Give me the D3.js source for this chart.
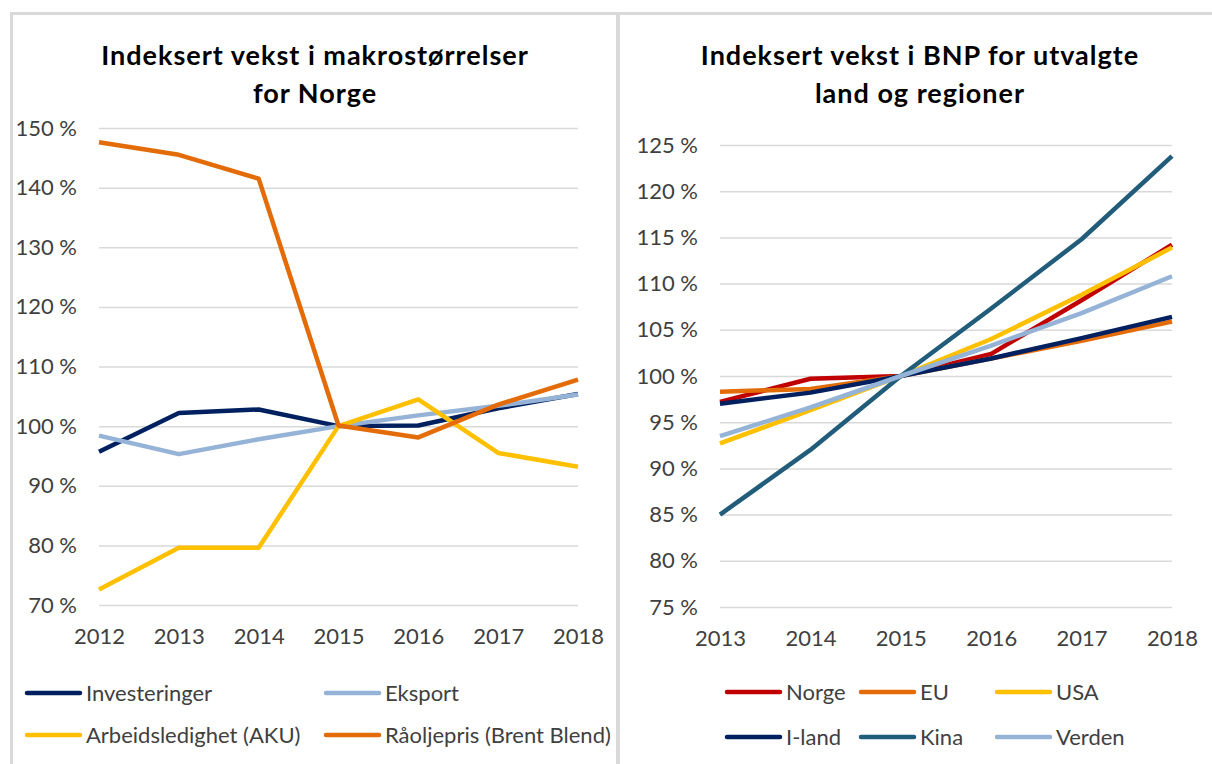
<!DOCTYPE html>
<html lang="no">
<head>
  <meta charset="UTF-8">
  <title>Indeksert vekst</title>
  <script src="https://d3js.org/d3.v7.min.js"></script>
  <style>
    body { margin: 0; background: #fff; }
    svg { display: block; }
  </style>
</head>
<body>
  <div id="chart"></div>

  <script>
    // Venstre panel: makrostørrelser for Norge
    const yearsLeft = [2012, 2013, 2014, 2015, 2016, 2017, 2018];
    const investeringer = [95.7, 102.2, 102.8, 100.0, 100.1, 103.0, 105.4];
    const eksport = [98.4, 95.3, 97.8, 100.0, 101.8, 103.4, 105.3];
    const arbeidsledighet = [72.6, 79.6, 79.6, 100.0, 104.5, 95.5, 93.2];
    const raaoljepris = [147.6, 145.5, 141.5, 100.1, 98.1, 103.6, 107.8];
    const ticksLeft = [70, 80, 90, 100, 110, 120, 130, 140, 150];

    // Høyre panel: BNP
    const yearsRight = [2013, 2014, 2015, 2016, 2017, 2018];
    const norge = [97.2, 99.7, 100.0, 102.4, 108.2, 114.2];
    const eu = [98.3, 98.6, 100.0, 101.9, 103.8, 105.9];
    const usa = [92.7, 96.3, 100.0, 104.0, 108.8, 113.9];
    const iland = [97.0, 98.2, 100.0, 101.9, 104.1, 106.4];
    const kina = [85.0, 92.0, 100.0, 107.3, 114.8, 123.8];
    const verden = [93.5, 96.6, 100.0, 103.3, 106.8, 110.8];
    const ticksRight = [75, 80, 85, 90, 95, 100, 105, 110, 115, 120, 125];

    const W = 1212, H = 764;
    const font = 'Lato, "Open Sans", sans-serif';

    const svg = d3.select('#chart').append('svg')
      .attr('width', W)
      .attr('height', H);

    // panel borders
    svg.append('rect').attr('x', 10).attr('y', 12).attr('width', 3).attr('height', H).attr('fill', '#d9d9d9');
    svg.append('rect').attr('x', 10).attr('y', 12).attr('width', W).attr('height', 3).attr('fill', '#d9d9d9');
    svg.append('rect').attr('x', 616).attr('y', 12).attr('width', 4).attr('height', H).attr('fill', '#d9d9d9');

    function drawPanel(cfg) {
      const g = svg.append('g');

      const x = d3.scalePoint().domain(cfg.years).range([cfg.x0, cfg.x1]);
      const y = d3.scaleLinear().domain(cfg.yDomain).range([cfg.y0, cfg.y1]);

      // title
      cfg.title.forEach((t, i) => {
        g.append('text')
          .attr('x', cfg.titleX)
          .attr('y', cfg.titleY + i * 38)
          .attr('text-anchor', 'middle')
          .attr('font-family', font)
          .attr('font-weight', 'bold')
          .attr('font-size', '27px')
          .attr('letter-spacing', '1px')
          .attr('fill', '#000')
          .text(t);
      });

      // gridlines + y labels
      const yAxis = d3.axisLeft(y)
        .tickValues(cfg.ticks)
        .tickSize(-(cfg.x1 - cfg.x0))
        .tickPadding(22)
        .tickFormat(d => d + ' %');
      const ya = g.append('g').attr('transform', `translate(${cfg.x0},0)`).call(yAxis);
      ya.select('.domain').remove();
      ya.selectAll('line').attr('stroke', '#d9d9d9').attr('stroke-width', 1.5);
      ya.selectAll('text')
        .attr('font-family', font)
        .attr('font-size', '22px')
        .attr('fill', '#404040');

      const xAxis = d3.axisBottom(x).tickSize(0).tickPadding(23);
      const xa = g.append('g').attr('transform', `translate(0,${cfg.y0})`).call(xAxis);
      xa.select('.domain').remove();
      xa.selectAll('text')
        .attr('font-family', font)
        .attr('font-size', '22px')
        .attr('fill', '#404040');

      const line = d3.line()
        .x((d, i) => x(cfg.years[i]))
        .y(d => y(d));

      cfg.series.forEach(s => {
        g.append('path')
          .datum(s.values)
          .attr('fill', 'none')
          .attr('stroke', s.color)
          .attr('stroke-width', 4.5)
          .attr('stroke-linejoin', 'round')
          .attr('d', line);
      });

      // legend
      cfg.series.forEach((s, i) => {
        const lx = cfg.legendX[i % cfg.legendX.length];
        const ly = cfg.legendY[Math.floor(i / cfg.legendX.length)];
        g.append('line')
          .attr('x1', lx).attr('x2', lx + cfg.swatch)
          .attr('y1', ly).attr('y2', ly)
          .attr('stroke', s.color)
          .attr('stroke-width', 4.5)
          .attr('stroke-linecap', 'round');
        g.append('text')
          .attr('x', lx + cfg.swatch + 6)
          .attr('y', ly)
          .attr('dy', '0.35em')
          .attr('font-family', font)
          .attr('font-size', '22px')
          .attr('fill', '#404040')
          .text(s.name);
      });
    }

    drawPanel({
      years: yearsLeft,
      x0: 99, x1: 578,
      y0: 605, y1: 128,
      yDomain: [70, 150],
      ticks: ticksLeft,
      title: ['Indeksert vekst i makrostørrelser', 'for Norge'],
      titleX: 315, titleY: 65,
      legendX: [27, 326],
      legendY: [693, 735],
      swatch: 53,
      series: [
        { name: 'Investeringer', values: investeringer, color: '#002060' },
        { name: 'Eksport', values: eksport, color: '#95B3D7' },
        { name: 'Arbeidsledighet (AKU)', values: arbeidsledighet, color: '#FFC000' },
        { name: 'Råoljepris (Brent Blend)', values: raaoljepris, color: '#E36C09' }
      ]
    });

    drawPanel({
      years: yearsRight,
      x0: 720, x1: 1172,
      y0: 607, y1: 145,
      yDomain: [75, 125],
      ticks: ticksRight,
      title: ['Indeksert vekst i BNP for utvalgte', 'land og regioner'],
      titleX: 920, titleY: 65,
      legendX: [727, 861, 997],
      legendY: [692, 737],
      swatch: 53,
      series: [
        { name: 'Norge', values: norge, color: '#C00000' },
        { name: 'EU', values: eu, color: '#E36C09' },
        { name: 'USA', values: usa, color: '#FFC000' },
        { name: 'I-land', values: iland, color: '#002060' },
        { name: 'Kina', values: kina, color: '#215C7A' },
        { name: 'Verden', values: verden, color: '#95B3D7' }
      ]
    });
  </script>
</body>
</html>
